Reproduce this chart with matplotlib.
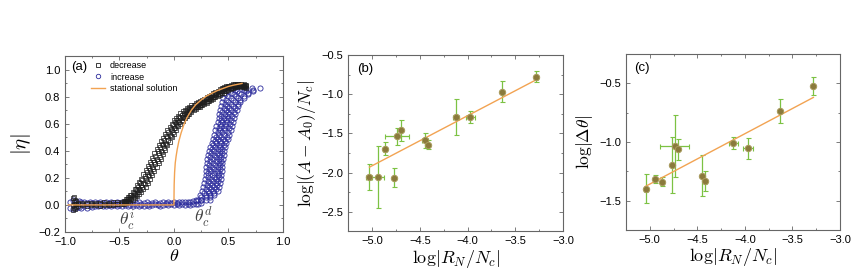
import matplotlib
matplotlib.use("Agg")
import matplotlib.pyplot as plt
from matplotlib.lines import Line2D
from matplotlib.ticker import MultipleLocator

plt.rcParams["font.family"] = ["Liberation Sans", "DejaVu Sans"]
plt.rcParams["mathtext.fontset"] = "cm"

# ---- panel (a): order parameter vs theta ----
# decreasing sweep: theta with three readings of |eta| (low / mid / high part of the band)
dec_theta = [-0.93, -0.92, -0.91, -0.90, -0.88, -0.84, -0.80, -0.76, -0.72, -0.68, -0.64, -0.60, -0.56, -0.52, -0.48,
             -0.46, -0.44, -0.42, -0.40, -0.38, -0.36, -0.34, -0.32, -0.30, -0.28, -0.26, -0.24, -0.22, -0.20,
             -0.18, -0.16, -0.14, -0.12, -0.10, -0.08, -0.06, -0.04, -0.02, 0.00, 0.02, 0.04, 0.06, 0.08, 0.10,
             0.12, 0.14, 0.16, 0.18, 0.20, 0.22, 0.24, 0.26, 0.28, 0.30, 0.32, 0.34, 0.36, 0.38, 0.40, 0.42,
             0.44, 0.46, 0.48, 0.50, 0.52, 0.54, 0.56, 0.58, 0.60, 0.62, 0.64, 0.66]
dec_lo = [-0.035, -0.02, -0.03, -0.015, -0.005, 0.0, -0.005, 0.0, 0.0, -0.005, 0.0, 0.0, 0.0, 0.005, 0.005,
          0.01, 0.015, 0.02, 0.025, 0.035, 0.05, 0.065, 0.08, 0.095, 0.115, 0.135, 0.165, 0.19, 0.22,
          0.25, 0.28, 0.31, 0.34, 0.375, 0.405, 0.44, 0.465, 0.5, 0.525, 0.555, 0.58, 0.6, 0.62, 0.64,
          0.655, 0.67, 0.685, 0.7, 0.71, 0.72, 0.725, 0.735, 0.745, 0.755, 0.765, 0.775, 0.785, 0.795, 0.805, 0.815,
          0.825, 0.83, 0.84, 0.85, 0.855, 0.86, 0.868, 0.868, 0.875, 0.87, 0.87, 0.865]
dec_mid = [0.0, 0.02, 0.01, 0.005, 0.005, 0.005, 0.01, 0.005, 0.01, 0.005, 0.01, 0.005, 0.01, 0.01, 0.015,
           0.025, 0.03, 0.045, 0.05, 0.07, 0.08, 0.11, 0.12, 0.15, 0.165, 0.2, 0.22, 0.26, 0.28,
           0.32, 0.34, 0.38, 0.4, 0.44, 0.46, 0.5, 0.515, 0.555, 0.57, 0.605, 0.615, 0.645, 0.65, 0.675,
           0.68, 0.7, 0.705, 0.725, 0.725, 0.745, 0.74, 0.76, 0.76, 0.78, 0.78, 0.8, 0.8, 0.82, 0.82, 0.84,
           0.84, 0.855, 0.86, 0.87, 0.865, 0.88, 0.875, 0.885, 0.88, 0.885, 0.875, 0.88]
dec_hi = [0.05, 0.055, 0.04, 0.03, 0.015, 0.015, 0.015, 0.015, 0.015, 0.015, 0.02, 0.015, 0.02, 0.02, 0.025,
          0.03, 0.045, 0.06, 0.075, 0.095, 0.12, 0.145, 0.17, 0.195, 0.225, 0.255, 0.285, 0.32, 0.35,
          0.38, 0.41, 0.44, 0.47, 0.495, 0.525, 0.55, 0.575, 0.6, 0.625, 0.645, 0.66, 0.68, 0.69, 0.7,
          0.715, 0.72, 0.735, 0.74, 0.75, 0.76, 0.765, 0.775, 0.785, 0.795, 0.805, 0.815, 0.825, 0.835, 0.845, 0.855,
          0.865, 0.87, 0.88, 0.88, 0.885, 0.89, 0.892, 0.892, 0.895, 0.89, 0.89, 0.885]
# decreasing sweep, in-between theta values with two more readings
dec_theta2 = [-0.45, -0.43, -0.41, -0.39, -0.37, -0.35, -0.33, -0.31, -0.29, -0.27, -0.25, -0.23, -0.21, -0.19,
              -0.17, -0.15, -0.13, -0.11, -0.09, -0.07, -0.05, -0.03, -0.01, 0.01, 0.03, 0.05, 0.07, 0.09,
              0.11, 0.13, 0.15, 0.17, 0.19, 0.21, 0.23, 0.25, 0.27, 0.29, 0.31, 0.33, 0.35, 0.37, 0.39,
              0.41, 0.43, 0.45, 0.47, 0.49, 0.51, 0.53, 0.55, 0.57, 0.59, 0.61, 0.63, 0.65]
dec_q1 = [0.02, 0.025, 0.035, 0.045, 0.06, 0.075, 0.095, 0.11, 0.13, 0.155, 0.18, 0.21, 0.235, 0.265,
          0.3, 0.325, 0.355, 0.39, 0.42, 0.45, 0.48, 0.51, 0.54, 0.565, 0.59, 0.61, 0.63, 0.645,
          0.66, 0.675, 0.69, 0.705, 0.715, 0.725, 0.73, 0.74, 0.75, 0.76, 0.77, 0.78, 0.79, 0.8, 0.81,
          0.82, 0.83, 0.84, 0.845, 0.855, 0.86, 0.865, 0.87, 0.875, 0.875, 0.878, 0.875, 0.872]
dec_q2 = [0.03, 0.045, 0.055, 0.07, 0.09, 0.115, 0.135, 0.16, 0.185, 0.21, 0.24, 0.27, 0.305, 0.335,
          0.36, 0.395, 0.425, 0.45, 0.48, 0.51, 0.535, 0.56, 0.59, 0.61, 0.63, 0.65, 0.665, 0.68,
          0.69, 0.705, 0.715, 0.725, 0.735, 0.745, 0.755, 0.76, 0.77, 0.78, 0.79, 0.8, 0.81, 0.82, 0.83,
          0.84, 0.85, 0.86, 0.865, 0.87, 0.875, 0.88, 0.885, 0.885, 0.89, 0.888, 0.885, 0.882]

# increasing sweep, flat part: theta with two readings of |eta|
inc_flat_theta = [-0.95, -0.925, -0.90, -0.875, -0.85, -0.825, -0.80, -0.775, -0.75, -0.725, -0.70, -0.675,
                  -0.65, -0.625, -0.60, -0.575, -0.55, -0.525, -0.50, -0.475, -0.45, -0.425, -0.40, -0.375,
                  -0.35, -0.325, -0.30, -0.275, -0.25, -0.225, -0.20, -0.175, -0.15, -0.125, -0.10, -0.075,
                  -0.05, -0.025, 0.00, 0.025, 0.05, 0.075, 0.10, 0.125, 0.15, 0.175, 0.20, 0.225, 0.25]
inc_flat_lo = [-0.02, -0.03, -0.025, -0.015, -0.02, -0.01, -0.02, -0.005, -0.015, -0.005, -0.01, 0.0,
               -0.005, -0.01, 0.0, -0.005, 0.0, -0.005, 0.0, -0.005, 0.0, -0.005, 0.0, -0.005,
               0.0, -0.005, 0.0, -0.005, 0.0, -0.005, 0.0, 0.005, 0.0, -0.005, 0.0, 0.005,
               0.0, 0.005, 0.0, 0.005, 0.0, 0.005, 0.0, 0.005, 0.0, 0.01, 0.005, 0.01, 0.015]
inc_flat_hi = [0.025, 0.035, 0.02, 0.03, 0.02, 0.025, 0.015, 0.02, 0.015, 0.02, 0.015, 0.02,
               0.015, 0.02, 0.015, 0.02, 0.015, 0.02, 0.015, 0.02, 0.015, 0.02, 0.015, 0.01,
               0.015, 0.02, 0.01, 0.015, 0.02, 0.01, 0.015, 0.02, 0.01, 0.015, 0.02, 0.015,
               0.02, 0.015, 0.02, 0.015, 0.02, 0.02, 0.025, 0.02, 0.025, 0.03, 0.03, 0.035, 0.04]

# increasing sweep, rising part: |eta| level with four theta readings across the band
inc_rise_eta = [0.04, 0.07, 0.10, 0.13, 0.16, 0.19, 0.22, 0.25, 0.28, 0.31, 0.34, 0.37, 0.40, 0.43, 0.46,
                0.49, 0.52, 0.55, 0.58, 0.61, 0.64, 0.67, 0.70, 0.73, 0.76, 0.79, 0.82, 0.845, 0.86]
inc_rise_a = [0.20, 0.24, 0.26, 0.27, 0.28, 0.285, 0.29, 0.29, 0.295, 0.30, 0.305, 0.31, 0.32, 0.33, 0.345,
              0.36, 0.37, 0.38, 0.39, 0.40, 0.41, 0.415, 0.425, 0.43, 0.44, 0.45, 0.47, 0.50, 0.55]
inc_rise_b = [0.25, 0.29, 0.31, 0.32, 0.33, 0.34, 0.345, 0.34, 0.35, 0.355, 0.36, 0.365, 0.37, 0.38, 0.39,
              0.405, 0.415, 0.425, 0.435, 0.445, 0.455, 0.465, 0.475, 0.485, 0.50, 0.52, 0.55, 0.58, 0.64]
inc_rise_c = [0.29, 0.33, 0.36, 0.37, 0.385, 0.39, 0.40, 0.395, 0.405, 0.41, 0.415, 0.415, 0.42, 0.425, 0.435,
              0.45, 0.46, 0.47, 0.48, 0.49, 0.50, 0.51, 0.525, 0.54, 0.56, 0.59, 0.62, 0.66, 0.72]
inc_rise_d = [0.33, 0.37, 0.40, 0.41, 0.42, 0.43, 0.435, 0.44, 0.44, 0.445, 0.45, 0.455, 0.46, 0.465, 0.475,
              0.50, 0.51, 0.52, 0.53, 0.54, 0.55, 0.56, 0.575, 0.59, 0.61, 0.64, 0.68, 0.73, 0.79]
# in-between |eta| levels with three more theta readings
inc_rise2_eta = [0.055, 0.085, 0.115, 0.145, 0.175, 0.205, 0.235, 0.265, 0.295, 0.325, 0.355, 0.385, 0.415,
                 0.445, 0.475, 0.505, 0.535, 0.565, 0.595, 0.625, 0.655, 0.685, 0.715, 0.745, 0.775, 0.805,
                 0.83, 0.852]
inc_rise2_e = [0.245, 0.275, 0.29, 0.30, 0.31, 0.315, 0.315, 0.32, 0.325, 0.33, 0.335, 0.34, 0.35,
               0.36, 0.375, 0.39, 0.40, 0.41, 0.42, 0.43, 0.435, 0.445, 0.455, 0.465, 0.48, 0.50,
               0.525, 0.56]
inc_rise2_f = [0.29, 0.32, 0.34, 0.35, 0.36, 0.37, 0.37, 0.37, 0.38, 0.385, 0.39, 0.395, 0.40,
               0.41, 0.42, 0.435, 0.445, 0.455, 0.465, 0.475, 0.485, 0.495, 0.505, 0.52, 0.54, 0.57,
               0.60, 0.645]
inc_rise2_g = [0.33, 0.365, 0.385, 0.395, 0.405, 0.415, 0.415, 0.42, 0.425, 0.43, 0.435, 0.44, 0.445,
               0.455, 0.465, 0.485, 0.495, 0.505, 0.515, 0.525, 0.535, 0.55, 0.565, 0.585, 0.61, 0.64,
               0.68, 0.73]

# stationary solution
stat_theta = [-0.97, 0.0, 0.0, 0.002, 0.006, 0.012, 0.02, 0.03, 0.045, 0.065, 0.09, 0.12, 0.16, 0.20,
              0.25, 0.30, 0.35, 0.40, 0.45, 0.50, 0.55, 0.60, 0.625]
stat_eta = [0.0, 0.0, 0.02, 0.15, 0.24, 0.31, 0.36, 0.41, 0.47, 0.53, 0.59, 0.645, 0.70, 0.74,
            0.775, 0.805, 0.825, 0.845, 0.86, 0.875, 0.885, 0.893, 0.897]

# ---- panels (b) and (c) ----
log_rn = [-5.04, -4.94, -4.87, -4.77, -4.74, -4.70, -4.45, -4.415, -4.12, -3.97, -3.635, -3.28]

log_area = [-2.055, -2.055, -1.695, -2.067, -1.535, -1.46, -1.59, -1.643, -1.292, -1.29, -0.97, -0.777]
area_yerr = [0.16, 0.39, 0.08, 0.12, 0.11, 0.135, 0.10, 0.06, 0.23, 0.075, 0.135, 0.07]
area_xerr = [0.03, 0.06, 0.02, 0.0, 0.125, 0.0, 0.03, 0.0, 0.03, 0.05, 0.0, 0.02]
area_fit_x = [-5.03, -3.27]
area_fit_y = [-1.93, -0.81]

log_dtheta = [-1.398, -1.318, -1.338, -1.196, -1.034, -1.062, -1.287, -1.332, -1.006, -1.054, -0.736, -0.523]
dtheta_yerr = [0.125, 0.035, 0.04, 0.24, 0.26, 0.09, 0.175, 0.085, 0.05, 0.09, 0.105, 0.08]
dtheta_xerr = [0.02, 0.02, 0.02, 0.0, 0.15, 0.0, 0.0, 0.02, 0.05, 0.05, 0.0, 0.0]
dtheta_fit_x = [-5.05, -3.28]
dtheta_fit_y = [-1.38, -0.62]

ORANGE = "#f2a352"
BLUE = "#2c2c9c"
GREEN = "#7cc243"
OLIVE = "#8a7a3c"
FRAME = "#666666"


def style_axes(ax, xmaj, xmin, ymaj, ymin):
    ax.xaxis.set_major_locator(MultipleLocator(xmaj))
    ax.xaxis.set_minor_locator(MultipleLocator(xmin))
    ax.yaxis.set_major_locator(MultipleLocator(ymaj))
    ax.yaxis.set_minor_locator(MultipleLocator(ymin))
    ax.tick_params(which="both", direction="in", top=True, right=True, color=FRAME, width=0.6)
    ax.tick_params(which="major", length=3, labelsize=8, pad=3.5)
    ax.tick_params(which="minor", length=1.6)
    for sp in ax.spines.values():
        sp.set_color(FRAME)
        sp.set_linewidth(0.8)


fig = plt.figure(figsize=(8.51, 2.70), dpi=100)

# (a)
ax = fig.add_axes([0.0764, 0.1407, 0.2560, 0.6520])
inc_x = (inc_flat_theta * 2 + inc_rise_a + inc_rise_b + inc_rise_c + inc_rise_d
         + inc_rise2_e + inc_rise2_f + inc_rise2_g)
inc_y = inc_flat_lo + inc_flat_hi + inc_rise_eta * 4 + inc_rise2_eta * 3
dec_x = dec_theta * 3 + dec_theta2 * 2
dec_y = dec_lo + dec_mid + dec_hi + dec_q1 + dec_q2
ax.plot(inc_x, inc_y, "o", ms=3.7, mfc="none", mec=BLUE, mew=0.6, zorder=2)
ax.plot(dec_x, dec_y, "s", ms=3.5, mfc="none", mec="#1e1e1e", mew=0.5, zorder=3)
ax.plot(stat_theta, stat_eta, "-", color=ORANGE, lw=1.0, zorder=4)
ax.set_xlim(-1.0, 1.0)
ax.set_ylim(-0.2, 1.1)
style_axes(ax, 0.5, 0.25, 0.2, 0.1)
ax.set_xlabel(r"$\theta$", fontsize=13, labelpad=1)
ax.set_ylabel(r"$|\eta|$", fontsize=15, labelpad=4)
ax.text(0.03, 0.935, "(a)", transform=ax.transAxes, fontsize=9.5, va="center")
ax.text(-0.43, -0.11, r"$\theta_c^i$", fontsize=12.5, color="#444444", ha="center", va="center")
ax.text(0.27, -0.09, r"$\theta_c^d$", fontsize=12.5, color="#444444", ha="center", va="center")
handles = [
    Line2D([0], [0], ls="none", marker="s", ms=3.0, mfc="none", mec="#1e1e1e", mew=0.6),
    Line2D([0], [0], ls="none", marker="o", ms=3.2, mfc="none", mec=BLUE, mew=0.6),
    Line2D([0], [0], color=ORANGE, lw=1.0),
]
ax.legend(handles, ["decrease", "increase", "stational solution"], loc="upper left",
          bbox_to_anchor=(0.12, 0.97), frameon=False, fontsize=6.5, handlelength=1.5,
          handletextpad=0.6, labelspacing=0.25, borderpad=0, borderaxespad=0)

# (b) and (c)
panels = [
    ([0.4095, 0.1426, 0.2520, 0.6540], log_area, area_yerr, area_xerr, area_fit_x, area_fit_y,
     (-2.75, -0.5), r"$\log|(A-A_0)/N_c|$", "(b)"),
    ([0.7356, 0.1480, 0.2515, 0.6520], log_dtheta, dtheta_yerr, dtheta_xerr, dtheta_fit_x, dtheta_fit_y,
     (-1.75, -0.25), r"$\log|\mathit{\Delta}\theta|$", "(c)"),
]
for rect, yv, yerr, xerr, fx, fy, ylim, ylabel, tag in panels:
    ax = fig.add_axes(rect)
    ax.errorbar(log_rn, yv, yerr=yerr, xerr=xerr, fmt="none", ecolor=GREEN, elinewidth=0.9,
                capsize=1.8, capthick=0.8, zorder=2)
    ax.plot(fx, fy, "-", color=ORANGE, lw=1.0, zorder=3)
    ax.plot(log_rn, yv, "o", ms=4.6, mfc=OLIVE, mec="#a89a5c", mew=0.7, zorder=4)
    ax.set_xlim(-5.25, -3.0)
    ax.set_ylim(*ylim)
    style_axes(ax, 0.5, 0.25, 0.5, 0.25)
    ax.set_xlabel(r"$\log|R_N/N_c|$", fontsize=13, labelpad=1)
    ax.set_ylabel(ylabel, fontsize=12.5, labelpad=3)
    ax.text(0.04, 0.92, tag, transform=ax.transAxes, fontsize=9.5, va="center")

fig.savefig("out.png", dpi=100)
